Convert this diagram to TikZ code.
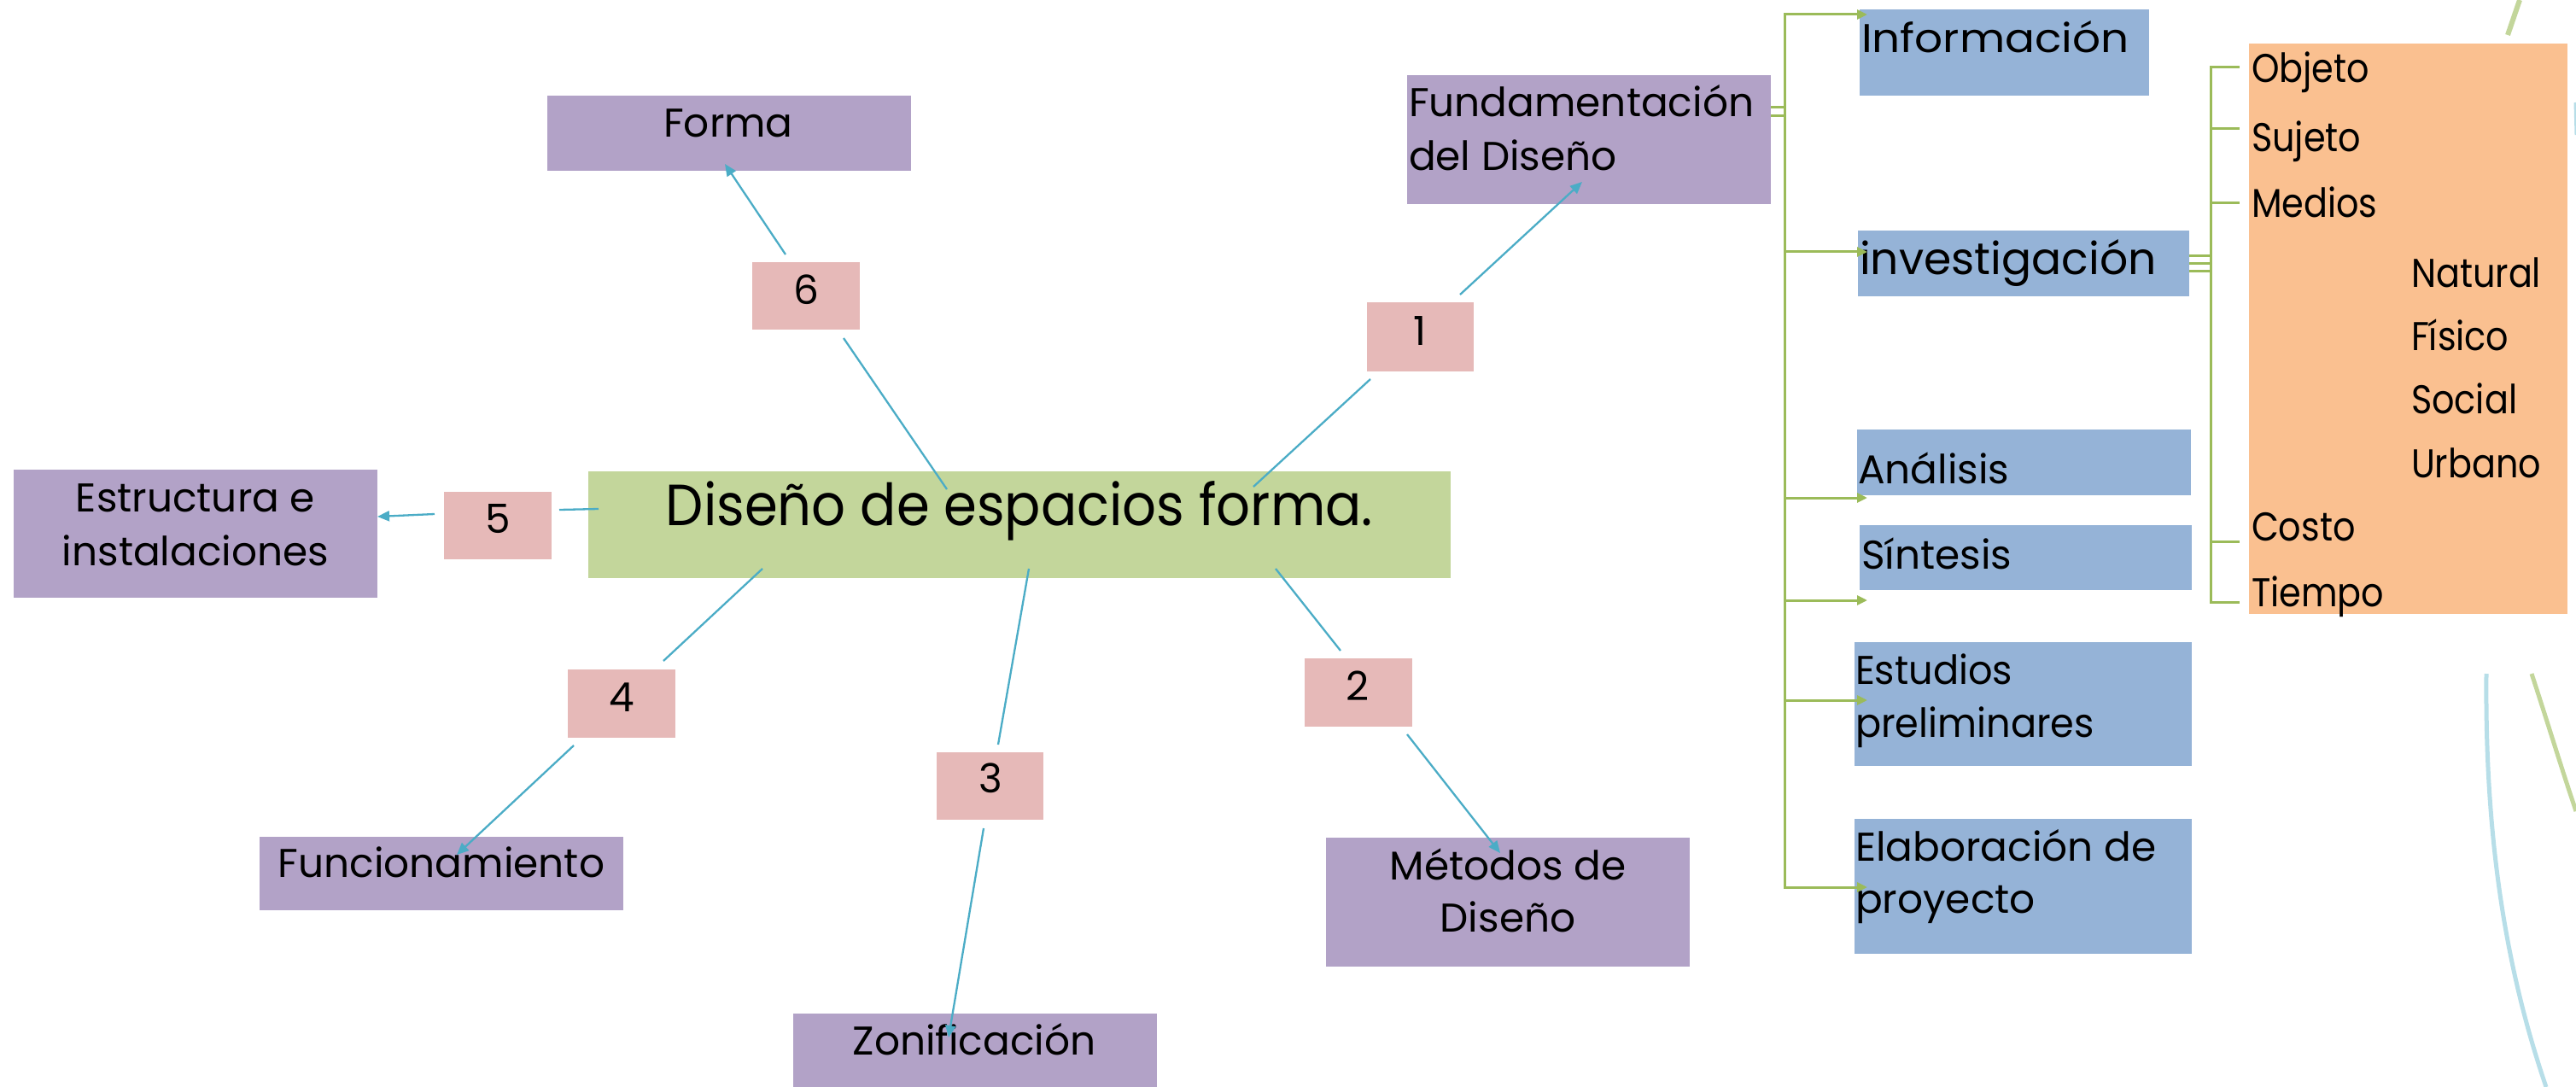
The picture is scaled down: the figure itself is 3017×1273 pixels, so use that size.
\documentclass[tikz,border=0pt]{standalone}
\usepackage{fontspec}
\setmainfont{Poppins}
\newfontfamily\fC[FakeStretch=0.92]{Poppins}
\newfontfamily\fO[FakeStretch=0.88]{Poppins}
\newfontfamily\fW[FakeStretch=1.1]{Poppins}
\newfontfamily\fE[FakeStretch=0.95]{Poppins}
\usetikzlibrary{arrows.meta,calc}
\definecolor{cpurple}{HTML}{B2A2C7}
\definecolor{cpink}{HTML}{E6B9B8}
\definecolor{cgreen}{HTML}{C3D69B}
\definecolor{cblue}{HTML}{95B3D7}
\definecolor{corange}{HTML}{FAC090}
\definecolor{lblue}{HTML}{4BACC6}
\definecolor{lgreen}{HTML}{9BBB59}
\definecolor{dblue}{HTML}{B7DEE8}
\tikzset{
  x=1pt, y=-1pt,
  boxnode/.style={draw=none, inner sep=0pt, outer sep=0pt, anchor=north west, rectangle},
  pbox/.style={boxnode, fill=cpurple},
  nbox/.style={boxnode, fill=cpink, minimum width=126pt, minimum height=80pt},
  bbox/.style={boxnode, fill=cblue},
  txt/.style={inner sep=0pt, outer sep=0pt, font=\fontsize{47}{63}\selectfont},
  otxt/.style={txt, anchor=base west, font=\fontsize{47}{63}\fO},
  bline/.style={draw=lblue, line width=2.3pt},
  barrow/.style={bline, -{Triangle[length=14pt,width=12pt]}},
  gline/.style={draw=lgreen, line width=3pt},
  garrow/.style={gline, -{Triangle[length=12pt,width=11pt]}},
}
\begin{document}
\begin{tikzpicture}
\useasboundingbox (0,0) rectangle (3017,1273);
% decorative curves
\draw[dblue, line width=5pt] (2912,789) .. controls (2910,1000) and (2940,1150) .. (2982,1273);
\draw[cgreen, line width=5pt] (2965,789) .. controls (2985,850) and (3000,900) .. (3017,950);
\draw[cgreen, line width=6pt] (2937,41) -- (2951,0);
\draw[dblue, line width=3pt] (3016,120) -- (3017,158);

% boxes
\node[boxnode, fill=cgreen, minimum width=1010pt, minimum height=125pt] (central) at (689,552) {};
\node[pbox, minimum width=426pt, minimum height=88pt] (forma) at (641,112) {};
\node[nbox, minimum height=79pt] (n6) at (881,307) {};
\node[pbox, minimum width=426pt, minimum height=150pt] (estr) at (16,550) {};
\node[nbox, minimum height=79pt] (n5) at (520,576) {};
\node[nbox, minimum width=125pt, minimum height=81pt] (n1) at (1601,354) {};
\node[pbox, minimum width=426pt, minimum height=151pt] (fund) at (1648,88) {};
\node[bbox, minimum width=339pt, minimum height=101pt] (info) at (2178,11) {};
\node[bbox, minimum width=388pt, minimum height=77pt] (inv) at (2176,270) {};
\node[bbox, minimum width=391pt, minimum height=77pt] (anal) at (2175,503) {};
\node[bbox, minimum width=389pt, minimum height=76pt] (sint) at (2178,615) {};
\node[bbox, minimum width=395pt, minimum height=145pt] (estu) at (2172,752) {};
\node[bbox, minimum width=395pt, minimum height=158pt] (elab) at (2172,959) {};
\node[boxnode, fill=corange, minimum width=373pt, minimum height=668pt] (orange) at (2634,51) {};
\node[nbox] (n2) at (1528,771) {};
\node[pbox, minimum width=426pt, minimum height=151pt] (met) at (1553,981) {};
\node[nbox] (n4) at (665,784) {};
\node[pbox, minimum width=426pt, minimum height=86pt] (func) at (304,980) {};
\node[nbox, minimum width=125pt, minimum height=79pt] (n3) at (1097,881) {};
\node[pbox, minimum width=426pt, minimum height=86pt] (zon) at (929,1187) {};

% texts (multi-line nodes: base = last line)
\node[txt, anchor=base, font=\fontsize{68}{80}\fC] (centralt) at (1194,615) {Diseño de espacios forma.};
\node[txt, anchor=base] (format) at (853,161) {Forma};
\node[txt, anchor=base] (n6t) at (944,356) {6};
\node[txt, anchor=base, align=center] (estrt) at (229,662) {Estructura e\\instalaciones};
\node[txt, anchor=base] (n5t) at (583,624) {5};
\node[txt, anchor=base] (n1t) at (1663,404) {1};
\node[txt, anchor=base west, align=left] (fundt) at (1650,200) {Fundamentación\\del Diseño};
\node[txt, anchor=base west, font=\fontsize{47}{63}\fW] (infot) at (2180,62) {Información};
\node[txt, anchor=base west, font=\fontsize{52}{63}\selectfont] (invt) at (2178,321) {investigación};
\node[txt, anchor=base west] (analt) at (2176,566) {Análisis};
\node[txt, anchor=base west] (sintt) at (2180,666) {Síntesis};
\node[txt, anchor=base west, align=left, font=\fontsize{47}{62}\fE] (estut) at (2173,863) {Estudios\\preliminares};
\node[txt, anchor=base west, align=left, font=\fontsize{47}{61}\selectfont] (elabt) at (2173,1069) {Elaboración de\\proyecto};
\node[txt, anchor=base] (n2t) at (1590,820) {2};
\node[txt, anchor=base, align=center, font=\fontsize{47}{61}\selectfont] (mett) at (1766,1091) {Métodos de\\Diseño};
\node[txt, anchor=base] (n4t) at (728,833) {4};
\node[txt, anchor=base] (funct) at (517,1027) {Funcionamiento};
\node[txt, anchor=base] (n3t) at (1160,928) {3};
\node[txt, anchor=base] (zont) at (1141,1235) {Zonificación};
% orange list
\node[otxt] (o1) at (2637,97) {Objeto};
\node[otxt] (o2) at (2637,178) {Sujeto};
\node[otxt] (o3) at (2637,255) {Medios};
\node[otxt] (o4) at (2824,336) {Natural};
\node[otxt] (o5) at (2824,410) {Físico};
\node[otxt] (o6) at (2824,484) {Social};
\node[otxt] (o7) at (2824,559) {Urbano};
\node[otxt] (o8) at (2637,633) {Costo};
\node[otxt] (o9) at (2637,710) {Tiempo};

% blue connectors
\draw[bline] ([shift={(420,21)}]central.north west) -- ([shift={(107,89)}]n6.north west);
\draw[barrow] ([shift={(39,-9)}]n6.north west) -- ([shift={(208,80)}]forma.north west);
\draw[bline] ([shift={(12,44)}]central.north west) -- ([shift={(135,21)}]n5.north west);
\draw[barrow] ([shift={(-11,26)}]n5.north west) -- ([shift={(426,55)}]estr.north west);
\draw[bline] ([shift={(204,114)}]central.north west) -- ([shift={(112,-10)}]n4.north west);
\draw[barrow] ([shift={(7,89)}]n4.north west) -- ([shift={(231,21)}]func.north west);
\draw[bline] ([shift={(516,114)}]central.north west) -- ([shift={(72,-9)}]n3.north west);
\draw[barrow] ([shift={(55,89)}]n3.north west) -- ([shift={(182,28)}]zon.north west);
\draw[bline] ([shift={(805,114)}]central.north west) -- ([shift={(42,-9)}]n2.north west);
\draw[barrow] ([shift={(120,89)}]n2.north west) -- ([shift={(204,18)}]met.north west);
\draw[bline] ([shift={(779,18)}]central.north west) -- ([shift={(4,90)}]n1.north west);
\draw[barrow] ([shift={(109,-9)}]n1.north west) -- ([shift={(205,125)}]fund.north west);

% green tree from Fundamentacion
\draw[gline] ([yshift=-48pt]fund.north east) -- ++(16,0);
\draw[garrow] ([yshift=-38pt]fund.north east) -- ++(16,0) |- ([shift={(9,6)}]info.north west);
\draw[garrow] ([yshift=-38pt]fund.north east) -- ++(16,0) |- ([shift={(11,25)}]inv.north west);
\draw[garrow] ([yshift=-38pt]fund.north east) -- ++(16,0) |- ([shift={(12,80)}]anal.north west);
\draw[garrow] ([yshift=-38pt]fund.north east) -- ++(16,0) |- ([shift={(9,88)}]sint.north west);
\draw[garrow] ([yshift=-38pt]fund.north east) -- ++(16,0) |- ([shift={(15,68)}]estu.north west);
\draw[garrow] ([yshift=-38pt]fund.north east) -- ++(16,0) |- ([shift={(15,80)}]elab.north west);

% green tree from investigacion
\draw[gline] ([yshift=-30pt]inv.north east) -- ++(25,0);
\draw[gline] ([yshift=-39pt]inv.north east) -- ++(25,0);
\draw[gline] ([yshift=-48pt]inv.north east) -- ++(25,0) |- ([shift={(-11,28)}]orange.north west);
\draw[gline] ([yshift=-48pt]inv.north east) -- ++(25,0) |- ([shift={(-11,100)}]orange.north west);
\draw[gline] ([yshift=-48pt]inv.north east) -- ++(25,0) |- ([shift={(-11,187)}]orange.north west);
\draw[gline] ([yshift=-30pt]inv.north east) -- ++(25,0) |- ([shift={(-11,583)}]orange.north west);
\draw[gline] ([yshift=-30pt]inv.north east) -- ++(25,0) |- ([shift={(-11,654)}]orange.north west);
\end{tikzpicture}
\end{document}
